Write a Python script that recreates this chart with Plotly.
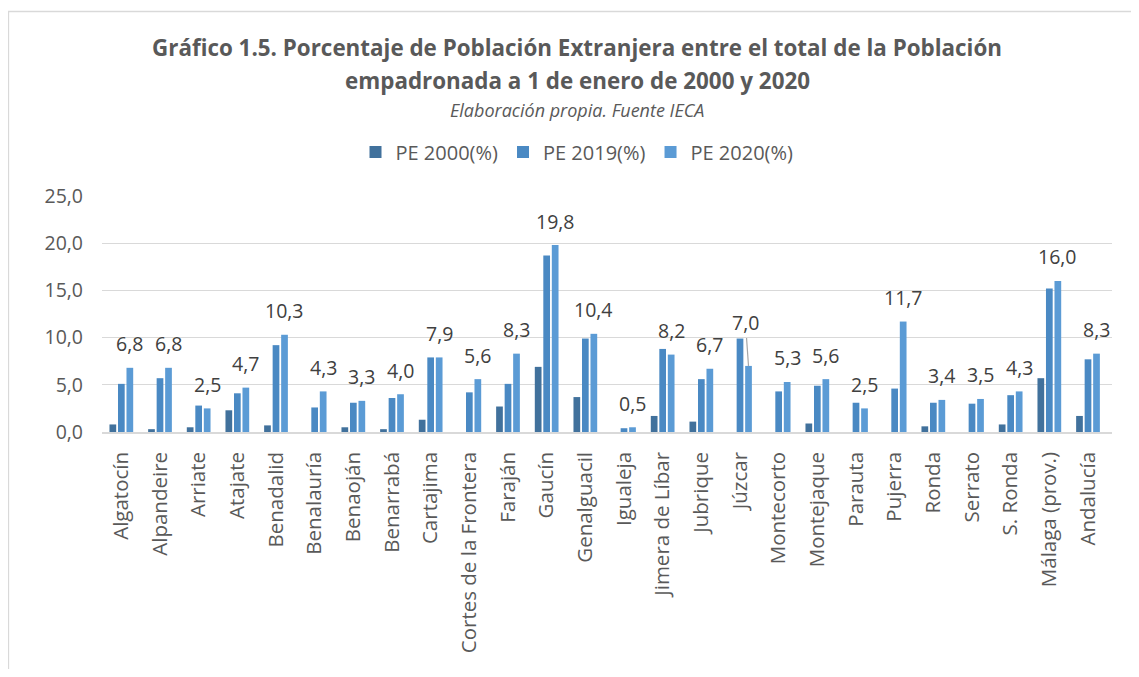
import plotly.graph_objects as go

categories = ["Algatocín", "Alpandeire", "Arriate", "Atajate", "Benadalid", "Benalauría",
              "Benaoján", "Benarrabá", "Cartajima", "Cortes de la Frontera", "Faraján",
              "Gaucín", "Genalguacil", "Igualeja", "Jimera de Líbar", "Jubrique", "Júzcar",
              "Montecorto", "Montejaque", "Parauta", "Pujerra", "Ronda", "Serrato",
              "S. Ronda", "Málaga (prov.)", "Andalucía"]
pe2000 = [0.8, 0.3, 0.5, 2.3, 0.7, None, 0.5, 0.3, 1.3, None, 2.7, 6.9, 3.7, None, 1.7, 1.1,
          None, None, 0.9, None, None, 0.6, None, 0.8, 5.7, 1.7]
pe2019 = [5.1, 5.7, 2.8, 4.1, 9.2, 2.6, 3.1, 3.6, 7.9, 4.2, 5.1, 18.7, 9.9, 0.4, 8.8, 5.6,
          9.9, 4.3, 4.9, 3.1, 4.6, 3.1, 3.0, 3.9, 15.2, 7.7]
pe2020 = [6.8, 6.8, 2.5, 4.7, 10.3, 4.3, 3.3, 4.0, 7.9, 5.6, 8.3, 19.8, 10.4, 0.5, 8.2, 6.7,
          7.0, 5.3, 5.6, 2.5, 11.7, 3.4, 3.5, 4.3, 16.0, 8.3]
series_names = ["PE 2000(%)", "PE 2019(%)", "PE 2020(%)"]
colors = ["#41719C", "#4A89C3", "#5B9BD5"]
y_ticks = [0, 5, 10, 15, 20, 25]

FONT = "Open Sans"
OFF = 8  # page body margin
W, H = 1123, 661
ML, MT = 102 - OFF, 196 - OFF
MR = W - (1112 - OFF)
MB = H - (432 - OFF)
PW = W - ML - MR
PH = H - MT - MB


def px_x(px):  # page pixel -> paper
    return (px - OFF - ML) / PW


def px_y(py):
    return (H - MB - (py - OFF)) / PH


fig = go.Figure()
for name, vals, col in zip(series_names, [pe2000, pe2019, pe2020], colors):
    fig.add_trace(go.Bar(x=categories, y=vals, name=name, marker_color=col,
                         marker_line_width=0))

annotations = []
for cat, v in zip(categories, pe2020):
    txt = f"{v:.1f}".replace(".", ",")
    if cat == "Júzcar":
        annotations.append(dict(x=cat, y=v, xref="x", yref="y", text=txt, xshift=8.5,
                                showarrow=True, ax=-3, ay=-43, arrowhead=0,
                                arrowcolor="#a6a6a6", arrowwidth=1.2, standoff=0,
                                font=dict(family=FONT, size=19.5, color="#404040")))
    else:
        annotations.append(dict(x=cat, y=v, xref="x", yref="y", text=txt, xshift=8.5,
                                yshift=24, yanchor="middle", showarrow=False,
                                font=dict(family=FONT, size=19.5, color="#404040")))

cx = px_x(577)
annotations += [
    dict(x=cx, y=px_y(48), xref="paper", yref="paper", showarrow=False, yanchor="middle",
         text="<b>Gráfico 1.5. Porcentaje de Población Extranjera entre el total de la Población</b>",
         font=dict(family=FONT, size=22.4, color="#595959")),
    dict(x=cx, y=px_y(81), xref="paper", yref="paper", showarrow=False, yanchor="middle",
         text="<b>empadronada a 1 de enero de 2000 y 2020</b>",
         font=dict(family=FONT, size=22.4, color="#595959")),
    dict(x=cx, y=px_y(110), xref="paper", yref="paper", showarrow=False, yanchor="middle",
         text="<i>Elaboración propia. Fuente IECA</i>",
         font=dict(family=FONT, size=18, color="#595959")),
]

fig.update_layout(
    width=W, height=H,
    margin=dict(l=ML, r=MR, t=MT, b=MB, autoexpand=False),
    paper_bgcolor="white", plot_bgcolor="white",
    barmode="group", bargap=0.34, bargroupgap=0.21,
    separators=",.",
    font=dict(family=FONT, color="#595959"),
    legend=dict(orientation="h", x=cx, xanchor="center", y=px_y(152), yanchor="middle",
                font=dict(family=FONT, size=20, color="#595959"), itemwidth=30,
                traceorder="normal"),
    annotations=annotations,
    shapes=[dict(type="rect", xref="paper", yref="paper",
                 x0=px_x(8.5), x1=px_x(1170), y0=px_y(720), y1=px_y(11.5),
                 line=dict(color="#d9d9d9", width=1.3), fillcolor="rgba(0,0,0,0)")],
)
fig.update_yaxes(range=[0, 25], tickvals=y_ticks, tickformat=".1f", showgrid=True,
                 gridcolor="#d9d9d9", gridwidth=1, zeroline=False, showline=False,
                 ticks="", ticklabelstandoff=18,
                 tickfont=dict(family=FONT, size=19.5, color="#595959"))
fig.update_xaxes(showline=True, linecolor="#d9d9d9", linewidth=1.5, ticks="",
                 tickangle=-90, ticklabelstandoff=10,
                 tickfont=dict(family=FONT, size=20.5, color="#595959"))

fig.write_html("out.html")
